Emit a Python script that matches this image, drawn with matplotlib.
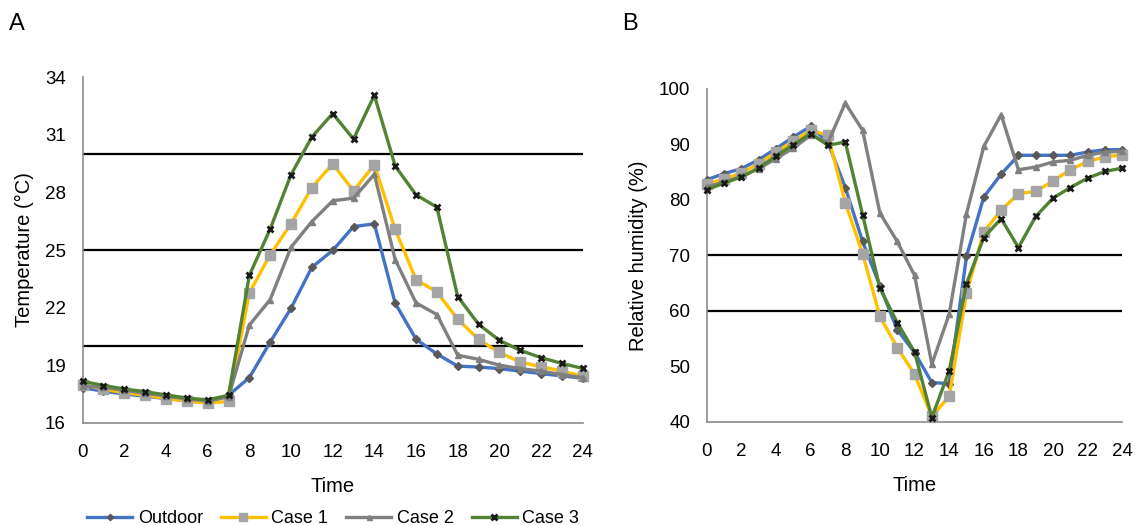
import matplotlib
matplotlib.use("Agg")
import matplotlib.pyplot as plt

# hourly values
hours = list(range(25))
series_names = ["Outdoor", "Case 1", "Case 2", "Case 3"]

temp_outdoor = [17.84, 17.65, 17.51, 17.39, 17.27, 17.15, 17.06, 17.44, 18.36, 20.21, 21.97, 24.10,
                24.98, 26.22, 26.36, 22.23, 20.36, 19.59, 18.96, 18.91, 18.83, 18.70, 18.57, 18.45, 18.33]
temp_case1 = [18.00, 17.75, 17.58, 17.44, 17.27, 17.15, 17.03, 17.12, 22.77, 24.76, 26.36, 28.25,
              29.49, 28.07, 29.44, 26.07, 23.46, 22.82, 21.40, 20.35, 19.67, 19.17, 18.93, 18.70, 18.44]
temp_case2 = [17.93, 17.85, 17.70, 17.55, 17.40, 17.25, 17.15, 17.35, 21.09, 22.42, 25.14, 26.48,
              27.56, 27.70, 28.94, 24.50, 22.25, 21.64, 19.53, 19.31, 19.01, 18.83, 18.70, 18.52, 18.36]
temp_case3 = [18.17, 17.95, 17.77, 17.63, 17.46, 17.30, 17.20, 17.44, 23.68, 26.09, 28.92, 30.88,
              32.10, 30.77, 33.05, 29.37, 27.87, 27.23, 22.58, 21.14, 20.30, 19.78, 19.40, 19.10, 18.84]

rh_outdoor = [83.6, 84.7, 85.6, 87.2, 89.2, 91.3, 93.2, 90.3, 82.2, 72.5, 64.5, 56.6,
              52.5, 47.1, 46.9, 69.8, 80.5, 84.6, 88.0, 88.0, 88.0, 88.0, 88.6, 89.0, 89.0]
rh_case1 = [82.8, 83.8, 84.8, 86.5, 88.6, 90.5, 92.5, 91.6, 79.5, 70.3, 59.0, 53.4,
            48.6, 41.0, 44.6, 63.2, 74.2, 78.1, 81.1, 81.5, 83.4, 85.4, 86.9, 87.7, 88.1]
rh_case2 = [82.3, 83.2, 84.2, 85.6, 87.4, 89.3, 91.6, 90.3, 97.4, 92.5, 77.6, 72.5,
            66.4, 50.4, 59.4, 77.5, 89.6, 95.3, 85.4, 85.9, 86.8, 87.1, 88.0, 88.6, 88.7]
rh_case3 = [81.8, 83.0, 84.1, 85.7, 87.9, 89.9, 91.9, 89.8, 90.4, 77.3, 64.1, 57.9,
            52.6, 40.8, 49.2, 64.9, 73.2, 76.6, 71.4, 77.0, 80.3, 82.2, 83.9, 85.1, 85.7]

temp_limits = [20, 25, 30]
rh_limits = [60, 70]

line_colors = ["#4472C4", "#FFC000", "#808080", "#548235"]
marker_styles = [
    dict(marker="D", markersize=4, markerfacecolor="#595959", markeredgecolor="#595959"),
    dict(marker="s", markersize=7, markerfacecolor="#A5A5A5", markeredgecolor="#A5A5A5"),
    dict(marker="^", markersize=4.5, markerfacecolor="#7F7F7F", markeredgecolor="#7F7F7F"),
    dict(marker="x", markersize=5, markeredgecolor="#1a1a1a", markeredgewidth=2),
]

plt.rcParams["font.family"] = ["Liberation Sans", "DejaVu Sans"]

fig = plt.figure(figsize=(11.37, 5.25), dpi=100)
ax1 = fig.add_axes([0.0727, 0.1943, 0.4398, 0.659])
ax2 = fig.add_axes([0.6216, 0.1962, 0.3655, 0.635])


def style_axis(ax, ylim, yticks, ylabel):
    ax.set_xlim(0, 24)
    ax.set_ylim(*ylim)
    ax.set_xticks(range(0, 25, 2))
    ax.set_yticks(yticks)
    for s in ["top", "right"]:
        ax.spines[s].set_visible(False)
    for s in ["left", "bottom"]:
        ax.spines[s].set_color("#8c8c8c")
        ax.spines[s].set_linewidth(1.2)
    ax.tick_params(length=0, labelsize=13.5)
    ax.tick_params(axis="x", pad=15)
    ax.tick_params(axis="y", pad=12)
    ax.set_xlabel("Time", fontsize=14.5, labelpad=12)
    ax.set_ylabel(ylabel, fontsize=14.5, labelpad=8)


handles = []
for vals, col, mk in zip([temp_outdoor, temp_case1, temp_case2, temp_case3], line_colors, marker_styles):
    h, = ax1.plot(hours, vals, color=col, lw=2.4, clip_on=False, zorder=3, **mk)
    handles.append(h)
for y in temp_limits:
    ax1.axhline(y, color="black", lw=1.6, zorder=2)
style_axis(ax1, (16, 34), range(16, 35, 3), "Temperature (°C)")

for vals, col, mk in zip([rh_outdoor, rh_case1, rh_case2, rh_case3], line_colors, marker_styles):
    ax2.plot(hours, vals, color=col, lw=2.4, clip_on=False, zorder=3, **mk)
for y in rh_limits:
    ax2.axhline(y, color="black", lw=1.6, zorder=2)
style_axis(ax2, (40, 100), range(40, 101, 10), "Relative humidity (%)")

fig.text(0.008, 0.942, "A", fontsize=17)
fig.text(0.547, 0.942, "B", fontsize=17)

fig.legend(handles, series_names, loc="lower center", bbox_to_anchor=(0.293, -0.035),
           ncol=4, frameon=False, fontsize=13, handlelength=2.5, handletextpad=0.3,
           columnspacing=1.0, markerscale=0.8)

fig.savefig("out.png", dpi=100)
